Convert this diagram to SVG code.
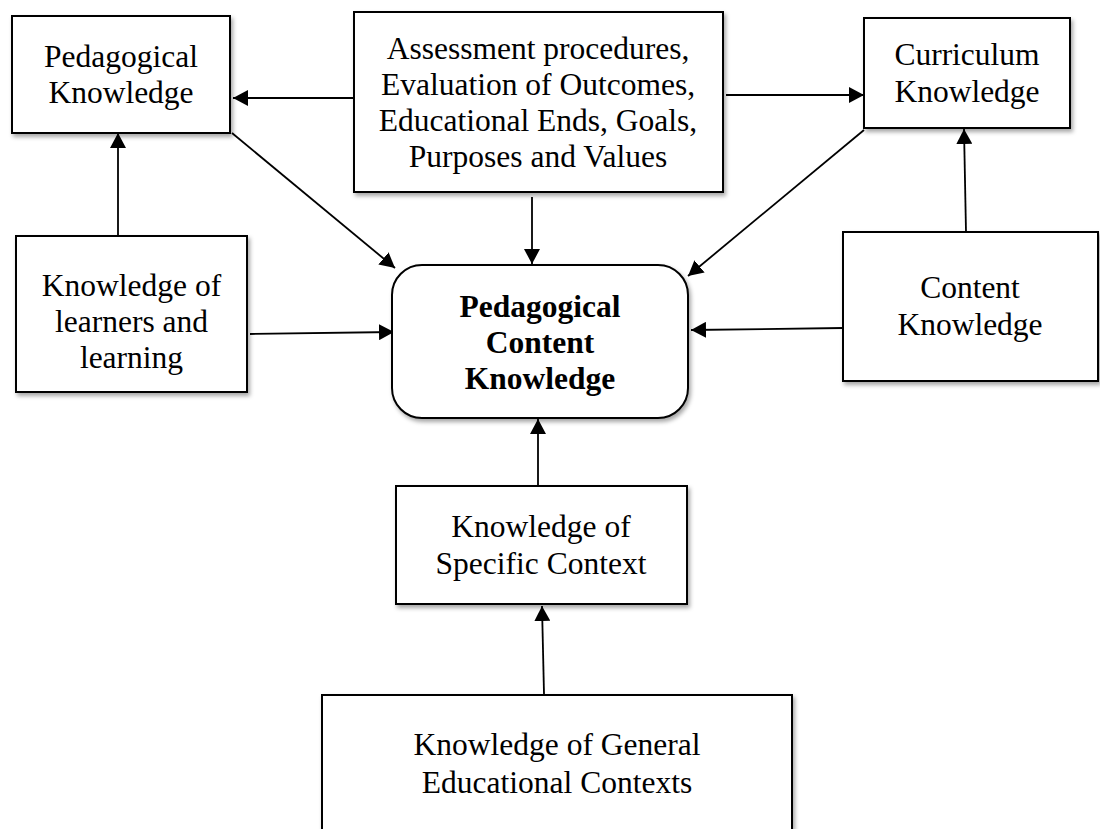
<svg xmlns="http://www.w3.org/2000/svg" width="1100" height="829" viewBox="0 0 1100 829">
  <style>
    .box { fill: #ffffff; stroke: #000000; stroke-width: 2; filter: url(#shadow); }
    .lbl { font-family: "Liberation Serif", "Times New Roman", serif; font-size: 31.5px; fill: #000000; text-anchor: middle; }
    .bold { font-weight: bold; }
    .edge { fill: none; stroke: #000000; stroke-width: 1.8; marker-end: url(#arrow); }
  </style>
  <defs>
    <filter id="shadow" x="-10%" y="-10%" width="125%" height="130%">
      <feDropShadow dx="2" dy="3" stdDeviation="2" flood-color="#000000" flood-opacity="0.35"/>
    </filter>
    <marker id="arrow" markerUnits="userSpaceOnUse" markerWidth="16" markerHeight="16" refX="15" refY="8" orient="auto">
      <path d="M0,0 L15,8 L0,16 Z" fill="#000000"/>
    </marker>
  </defs>
  <rect width="1100" height="829" fill="#ffffff"/>

  <g id="connectors">
    <line class="edge" x1="354" y1="98" x2="233" y2="98"/>
    <line class="edge" x1="726" y1="95" x2="864" y2="95"/>
    <line class="edge" x1="532" y1="197" x2="532" y2="264"/>
    <line class="edge" x1="232" y1="133" x2="395" y2="268"/>
    <line class="edge" x1="864" y1="130" x2="688" y2="276"/>
    <line class="edge" x1="118" y1="236" x2="118" y2="133"/>
    <line class="edge" x1="250" y1="334" x2="394" y2="332"/>
    <line class="edge" x1="966" y1="232" x2="964" y2="129"/>
    <line class="edge" x1="843" y1="328" x2="691" y2="330"/>
    <line class="edge" x1="538" y1="486" x2="538" y2="419"/>
    <line class="edge" x1="544" y1="694" x2="542" y2="606"/>
  </g>

  <g id="pedagogical-knowledge">
    <rect class="box" x="12" y="16" width="218" height="117"/>
    <text class="lbl" x="121" y="67">Pedagogical</text>
    <text class="lbl" x="121" y="103">Knowledge</text>
  </g>

  <g id="assessment">
    <rect class="box" x="354" y="12" width="369" height="180"/>
    <text class="lbl" x="538" y="59">Assessment procedures,</text>
    <text class="lbl" x="538" y="95">Evaluation of Outcomes,</text>
    <text class="lbl" x="538" y="131">Educational Ends, Goals,</text>
    <text class="lbl" x="538" y="167">Purposes and Values</text>
  </g>

  <g id="curriculum-knowledge">
    <rect class="box" x="864" y="18" width="206" height="110"/>
    <text class="lbl" x="967" y="65">Curriculum</text>
    <text class="lbl" x="967" y="102">Knowledge</text>
  </g>

  <g id="learners">
    <rect class="box" x="16" y="236" width="231" height="156"/>
    <text class="lbl" x="131.5" y="296">Knowledge of</text>
    <text class="lbl" x="131.5" y="332">learners and</text>
    <text class="lbl" x="131.5" y="368">learning</text>
  </g>

  <g id="pck">
    <rect class="box" x="392" y="265" width="296" height="153" rx="30" ry="30"/>
    <text class="lbl bold" x="540" y="317">Pedagogical</text>
    <text class="lbl bold" x="540" y="353">Content</text>
    <text class="lbl bold" x="540" y="389">Knowledge</text>
  </g>

  <g id="content-knowledge">
    <rect class="box" x="843" y="232" width="255" height="149"/>
    <text class="lbl" x="970" y="298">Content</text>
    <text class="lbl" x="970" y="335">Knowledge</text>
  </g>

  <g id="specific-context">
    <rect class="box" x="396" y="486" width="291" height="118"/>
    <text class="lbl" x="541" y="537">Knowledge of</text>
    <text class="lbl" x="541" y="574">Specific Context</text>
  </g>

  <g id="general-contexts">
    <rect class="box" x="322" y="695" width="470" height="150"/>
    <text class="lbl" x="557" y="755">Knowledge of General</text>
    <text class="lbl" x="557" y="793">Educational Contexts</text>
  </g>
</svg>
